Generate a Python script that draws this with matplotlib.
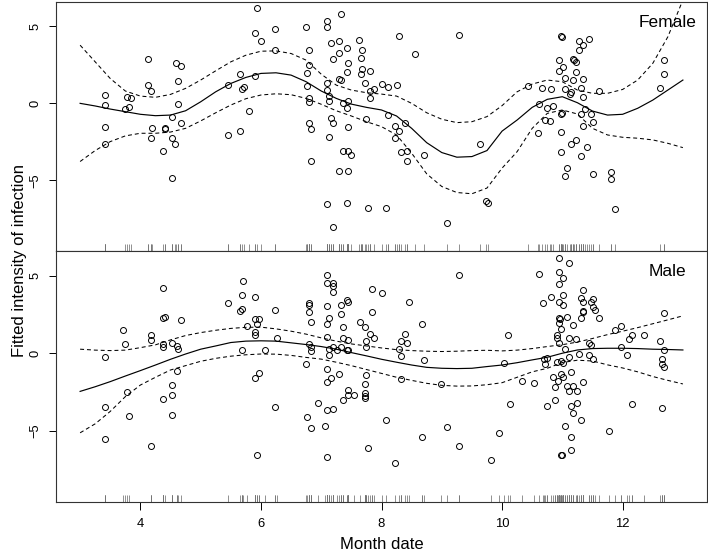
import matplotlib
matplotlib.use("Agg")
import matplotlib.pyplot as plt

plt.rcParams['font.family'] = ['Liberation Sans', 'DejaVu Sans']

# Fitted curves and pointwise bands
grid_x = [3.0, 3.25, 3.5, 3.75, 4.0, 4.25, 4.5, 4.75, 5.0, 5.25, 5.5, 5.75, 6.0, 6.25,
          6.5, 6.75, 7.0, 7.25, 7.5, 7.75, 8.0, 8.25, 8.5, 8.75, 9.0, 9.25, 9.5, 9.75,
          10.0, 10.25, 10.5, 10.75, 11.0, 11.25, 11.5, 11.75, 12.0, 12.25, 12.5, 12.75, 13.0]

female_fit = [0.0, -0.17, -0.37, -0.54, -0.71, -0.80, -0.76, -0.48, 0.1, 0.75, 1.29, 1.68, 1.94, 1.98,
              1.83, 1.40, 0.80, 0.32, -0.05, -0.26, -0.43, -0.82, -1.62, -2.55, -3.19, -3.49, -3.45, -3.06,
              -1.8, -1.08, -0.26, 0.26, 0.43, 0.04, -0.5, -0.76, -0.71, -0.32, 0.21, 0.86, 1.51]
female_upper = [3.77, 2.69, 1.61, 0.80, 0.47, 0.39, 0.58, 0.97, 1.51, 2.11, 2.69, 3.12, 3.38, 3.40,
                3.23, 2.80, 1.89, 1.18, 0.86, 0.69, 0.60, 0.47, 0.0, -0.61, -1.03, -1.25, -1.19, -0.86,
                -0.15, 0.75, 1.25, 1.51, 1.40, 0.86, 0.65, 0.65, 0.90, 1.51, 2.59, 4.31, 6.7]
female_lower = [-3.77, -3.06, -2.48, -2.11, -1.94, -1.94, -1.86, -1.62, -1.14, -0.61, -0.11, 0.30, 0.54, 0.62,
                0.56, 0.32, -0.06, -0.48, -0.82, -1.19, -1.51, -2.05, -3.23, -4.57, -5.39, -5.78, -5.86, -5.49,
                -4.2, -3.13, -1.62, -0.65, -0.43, -0.69, -1.62, -2.05, -2.20, -2.26, -2.37, -2.59, -2.87]

male_fit = [-2.46, -2.16, -1.83, -1.47, -1.12, -0.76, -0.39, -0.05, 0.26, 0.47, 0.69, 0.78, 0.80, 0.78,
            0.67, 0.56, 0.43, 0.26, 0.04, -0.17, -0.39, -0.58, -0.76, -0.91, -0.97, -0.99, -0.97, -0.86,
            -0.76, -0.61, -0.43, -0.26, 0.0, 0.21, 0.30, 0.32, 0.32, 0.30, 0.26, 0.24, 0.21]
male_upper = [0.26, 0.2, 0.17, 0.2, 0.36, 0.54, 0.86, 1.14, 1.33, 1.48, 1.60, 1.67, 1.68, 1.57,
              1.42, 1.23, 0.99, 0.78, 0.60, 0.47, 0.34, 0.23, 0.17, 0.13, 0.11, 0.13, 0.17, 0.19,
              0.15, 0.2, 0.3, 0.43, 0.55, 0.72, 0.95, 1.2, 1.42, 1.65, 1.9, 2.15, 2.41]
male_lower = [-5.13, -4.55, -3.75, -2.8, -2.05, -1.55, -1.08, -0.8, -0.52, -0.33, -0.19, -0.1, -0.05, -0.06,
              -0.14, -0.27, -0.38, -0.58, -0.8, -1.05, -1.3, -1.55, -1.75, -1.94, -2.07, -2.12, -2.11, -2.03,
              -1.9, -1.55, -1.2, -0.97, -0.6, -0.45, -0.5, -0.75, -0.95, -1.2, -1.5, -1.75, -1.98]

# Observations
female_x = [5.93, 5.90, 6.24, 6.00, 6.24, 4.13, 4.59, 4.67, 4.63, 5.65, 5.45, 5.90, 5.68, 5.72, 5.80,
            5.45, 5.65, 4.13, 4.17, 3.42, 3.42, 3.77, 3.84, 3.81, 3.74, 4.63, 4.53, 4.67, 3.42, 4.20,
            4.40, 4.41, 4.17, 4.53, 3.42, 4.57, 4.37, 4.53,
            7.33, 7.10, 7.10, 6.74, 8.29, 9.28, 7.16, 7.30, 7.62, 6.80, 7.42, 7.68, 7.30, 7.20, 7.66,
            8.56, 7.45, 6.80, 6.77, 7.68, 7.81, 7.42, 7.66, 7.30, 7.33, 7.10, 7.72, 8.01, 8.10, 8.26,
            6.77, 7.10, 7.81, 7.88, 7.13, 6.80, 7.81, 6.80, 7.13, 7.36, 7.45, 7.42, 8.10, 7.16, 7.75,
            7.20, 6.80, 8.39, 8.23, 6.83, 7.45, 8.29, 8.23, 7.13, 9.64, 7.36, 7.45, 7.49, 8.33, 8.42,
            8.71, 6.83, 8.42, 7.30, 7.45, 7.10, 7.42, 7.78, 8.07, 7.20, 9.08, 9.74, 9.77,
            10.98, 11.00, 11.28, 11.45, 11.34, 11.28, 10.94, 11.18, 11.22, 11.20, 11.01, 10.94, 11.22,
            12.69, 12.69, 12.62, 11.04, 11.18, 11.34, 10.43, 10.66, 10.82, 11.04, 11.15, 11.13, 11.31,
            11.34, 11.61, 10.62, 10.74, 10.84, 10.98, 11.00, 11.31, 11.38, 11.48, 10.72, 10.79, 11.34,
            11.51, 10.59, 10.98, 11.22, 11.15, 11.41, 10.98, 11.31, 11.08, 11.04, 11.51, 11.81, 11.81,
            11.88]
female_y = [6.16, 4.56, 4.80, 4.03, 3.47, 2.89, 2.63, 2.41, 1.44, 1.92, 1.20, 1.75, 0.90, 1.03, -0.48,
            -2.07, -1.79, 1.18, 0.81, 0.54, -0.09, 0.41, 0.32, -0.22, -0.39, -0.05, -0.86, -1.25, -1.55, -1.62,
            -1.62, -1.64, -2.26, -2.22, -2.61, -2.65, -3.08, -4.87,
            5.77, 5.34, 4.95, 4.93, 4.37, 4.43, 3.92, 4.03, 4.11, 3.47, 3.60, 3.49, 3.27, 2.88, 2.95,
            3.21, 2.63, 2.46, 1.98, 2.24, 2.09, 2.04, 1.91, 1.59, 1.51, 1.29, 1.33, 1.25, 1.05, 1.18,
            1.14, 0.86, 0.81, 0.92, 0.45, 0.34, 0.34, 0.10, 0.17, 0.04, 0.17, -0.32, -0.76, -0.95, -0.99,
            -1.25, -1.27, -1.29, -1.47, -1.66, -1.51, -1.79, -2.26, -2.18, -2.63, -3.10, -3.06, -3.32, -3.15, -3.06,
            -3.36, -3.75, -3.71, -4.36, -4.36, -6.53, -6.46, -6.77, -6.79, -8.04, -7.78, -6.36, -6.49,
            4.37, 4.29, 4.05, 4.14, 3.81, 3.47, 2.78, 2.88, 2.71, 2.80, 2.37, 2.11, 2.04,
            2.84, 1.89, 0.99, 1.62, 1.51, 1.59, 1.10, 1.01, 0.92, 0.90, 0.73, 0.58, 0.97,
            0.41, 0.78, -0.06, -0.32, -0.15, -0.71, -0.65, -0.67, -0.37, -0.69, -1.08, -1.17, -1.45,
            -1.21, -1.90, -1.86, -2.37, -2.65, -2.80, -3.13, -3.39, -4.22, -4.72, -4.59, -4.48, -4.89,
            -6.83]

male_x = [5.71, 5.68, 5.90, 5.45, 4.37, 5.65, 5.68, 6.24, 4.37, 4.40, 4.67, 5.90, 5.97, 5.93, 5.77,
          5.90, 5.90, 3.71, 4.17, 4.17, 3.74, 4.37, 4.37, 4.53, 4.60, 4.63, 6.26, 5.68, 6.07, 3.42,
          4.60, 5.90, 5.97, 4.53, 3.77, 4.53, 4.37, 3.42, 3.81, 4.53, 6.24, 3.42, 4.17, 5.93,
          7.10, 9.28, 7.10, 7.20, 7.20, 7.20, 7.85, 8.01, 6.80, 6.80, 6.80, 7.10, 7.42, 7.45, 7.33,
          8.46, 7.33, 7.13, 7.85, 6.83, 7.10, 7.65, 7.72, 7.36, 8.68, 7.10, 7.36, 7.45, 7.81, 7.88,
          7.75, 8.39, 8.33, 8.42, 8.29, 8.33, 6.80, 6.83, 6.83, 7.20, 7.13, 7.26, 7.33, 7.42, 7.44,
          7.75, 7.13, 8.71, 6.74, 7.10, 7.29, 7.16, 7.75, 7.10, 8.33, 8.98, 7.72, 7.45, 7.45, 7.55,
          7.36, 7.72, 7.72, 7.72, 6.94, 7.10, 7.20, 6.77, 8.07, 7.06, 6.83, 9.08, 8.68, 9.95, 7.78,
          9.28, 7.10, 8.23, 9.81,
          10.94, 11.11, 10.62, 10.94, 11.01, 10.94, 11.34, 11.01, 10.82, 10.68, 10.94, 11.01, 11.31,
          11.34, 11.48, 11.51, 11.51, 11.55, 11.34, 11.34, 11.61, 11.31, 10.94, 10.96, 11.08, 10.94,
          12.69, 11.18, 10.98, 11.88, 11.98, 10.10, 10.91, 10.91, 11.11, 11.22, 12.15, 12.36, 12.11,
          12.62, 11.44, 11.47, 10.94, 11.98, 12.69, 11.04, 11.28, 11.44, 11.11, 12.08, 10.69, 10.75,
          10.72, 10.91, 10.98, 11.01, 11.51, 10.04, 12.66, 12.65, 12.69, 10.98, 11.14, 11.01, 10.85,
          10.92, 10.88, 10.33, 10.53, 11.34, 11.08, 11.18, 11.11, 11.24, 10.88, 10.75, 10.13, 11.24,
          11.14, 12.15, 12.66, 11.18, 11.31, 11.04, 11.77, 11.14, 11.14, 10.98, 10.99]
male_y = [4.63, 3.75, 3.64, 3.25, 4.22, 2.71, 2.86, 2.80, 2.28, 2.35, 2.17, 2.20, 2.20, 1.89, 1.76,
          1.40, 1.18, 1.49, 1.16, 0.86, 0.62, 0.62, 0.41, 0.69, 0.49, 0.26, 0.99, 0.23, 0.21, -0.22,
          -1.14, -1.58, -1.25, -2.07, -2.50, -2.67, -2.95, -3.49, -4.03, -3.99, -3.49, -5.50, -5.97, -6.55,
          5.06, 5.06, 4.54, 4.50, 4.31, 3.92, 4.11, 3.85, 3.21, 3.10, 2.65, 3.04, 3.42, 3.27, 3.08,
          3.30, 2.50, 2.26, 2.63, 2.04, 1.91, 2.02, 1.72, 1.70, 1.87, 1.07, 1.01, 0.86, 1.23, 1.01,
          0.78, 1.23, 0.81, 0.65, 0.30, -0.15, 0.62, 0.41, 0.17, 0.43, 0.26, 0.21, 0.39, 0.23, 0.20,
          0.39, -0.11, -0.45, -0.71, -1.03, -1.36, -1.62, -1.40, -1.86, -1.64, -1.96, -1.98, -2.37, -2.67, -2.67,
          -3.00, -2.59, -2.74, -2.91, -3.21, -3.67, -3.62, -4.12, -4.29, -4.68, -4.79, -4.76, -5.41, -5.13, -6.12,
          -5.97, -6.72, -7.05, -6.88,
          6.14, 5.82, 5.13, 5.21, 4.82, 4.48, 4.07, 3.77, 3.62, 3.23, 3.27, 3.12, 3.57,
          3.27, 3.27, 3.47, 2.97, 2.80, 2.67, 2.72, 2.24, 2.28, 2.26, 2.22, 2.33, 1.98,
          2.62, 1.83, 1.55, 1.51, 1.76, 1.18, 1.18, 0.99, 0.99, 0.90, 1.16, 1.20, 0.90,
          0.80, 0.69, 0.54, 0.65, 0.43, 0.21, 0.26, -0.05, -0.11, -0.22, -0.13, -0.39, -0.30,
          -0.69, -0.56, -0.50, -0.65, -0.39, -0.61, -0.39, -0.69, -0.86, -1.36, -1.21, -1.53, -1.55,
          -1.77, -2.16, -1.77, -1.92, -1.87, -2.11, -2.11, -2.46, -2.42, -3.04, -3.41, -3.26, -3.19,
          -3.39, -3.28, -3.52, -3.86, -4.31, -4.68, -5.02, -5.39, -6.25, -6.53, -6.58]

x_ticks = [4, 6, 8, 10, 12]
y_ticks = [-5, 0, 5]

fig = plt.figure(figsize=(7.08, 5.58), dpi=100)
ax_f = fig.add_axes([0.0791, 0.5502, 0.9195, 0.4468])
ax_m = fig.add_axes([0.0791, 0.1009, 0.9195, 0.4493])

panels = [(ax_f, female_x, female_y, female_fit, female_upper, female_lower, "Female", 0.984, 0.897),
          (ax_m, male_x, male_y, male_fit, male_upper, male_lower, "Male", 0.968, 0.900)]

for ax, px, py, fit, up, lo, name, tx, ty in panels:
    ax.plot(px, py, 'o', ms=4.3, mfc='none', mec='black', mew=0.7)
    ax.plot(grid_x, fit, '-', color='black', lw=0.85)
    ax.plot(grid_x, up, color='black', lw=0.75, dashes=(3.8, 2.8))
    ax.plot(grid_x, lo, color='black', lw=0.75, dashes=(3.8, 2.8))
    # rug of observation dates
    ax.vlines(px, 0, 0.027, transform=ax.get_xaxis_transform(), color='0.45', lw=0.55)
    ax.set_xlim(2.6, 13.4)
    ax.set_ylim(-9.57, 6.59)
    ax.set_yticks(y_ticks)
    ax.tick_params(axis='y', direction='out', length=5, width=0.7, pad=5.5,
                   labelsize=9.3, labelrotation=90)
    for lab in ax.get_yticklabels():
        lab.set_va('center')
    for s in ax.spines.values():
        s.set_linewidth(0.8)
        s.set_color('0.2')
    ax.text(tx, ty, name, transform=ax.transAxes, ha='right', va='baseline', fontsize=12.5)

ax_f.set_xticks([])
ax_m.set_xticks(x_ticks)
ax_m.tick_params(axis='x', direction='out', length=5.5, width=0.7, pad=6, labelsize=9.4)

fig.text(0.0273, 0.534, "Fitted intensity of infection", rotation=90, ha='center', va='center', fontsize=12)
fig.text(0.539, 0.024, "Month date", ha='center', va='center', fontsize=12)

fig.savefig("out.png", dpi=100)
